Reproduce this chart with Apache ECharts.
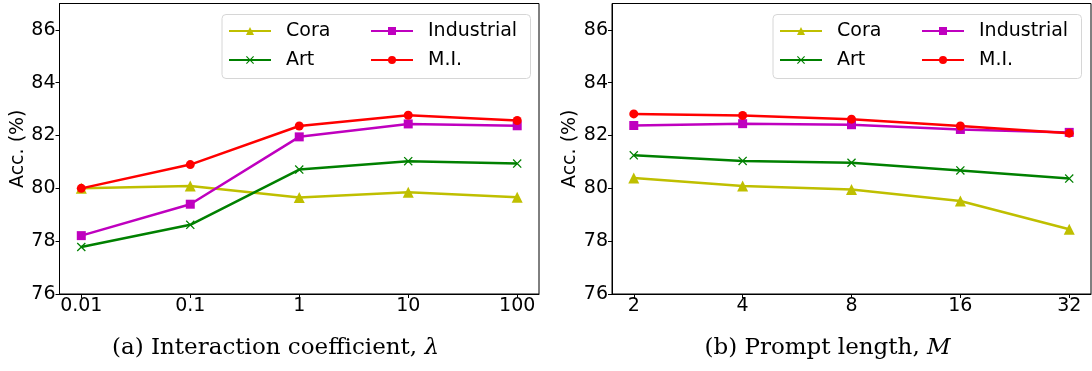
<!DOCTYPE html>
<html>
<head>
<meta charset="utf-8">
<script src="https://cdn.jsdelivr.net/npm/echarts@6/dist/echarts.min.js"></script>
<style>
  html, body { margin: 0; padding: 0; background: #fff; }
  #chart { width: 1092px; height: 371px; }
</style>
</head>
<body>
<div id="chart"></div>
<script>
(function () {
  // ── Data ──────────────────────────────────────────────
  const lambdaLabels = ["0.01", "0.1", "1", "10", "100"];
  const lengthLabels = ["2", "4", "8", "16", "32"];
  const seriesNames = ["Cora", "Art", "Industrial", "M.I."];

  // (a) interaction coefficient
  const lambdaCora = [80.0, 80.09, 79.65, 79.85, 79.66];
  const lambdaArt = [77.78, 78.62, 80.71, 81.03, 80.94];
  const lambdaIndustrial = [78.21, 79.4, 81.95, 82.44, 82.37];
  const lambdaMI = [80.0, 80.9, 82.36, 82.77, 82.57];

  // (b) prompt length
  const lengthCora = [80.39, 80.09, 79.96, 79.52, 78.45];
  const lengthArt = [81.25, 81.04, 80.97, 80.68, 80.37];
  const lengthIndustrial = [82.38, 82.45, 82.41, 82.23, 82.12];
  const lengthMI = [82.82, 82.76, 82.62, 82.36, 82.09];

  const yTicks = [76, 78, 80, 82, 84, 86];
  const xTicks = [0, 1, 2, 3, 4];

  // ── Styles ────────────────────────────────────────────
  const colors = { Cora: "#bfbf00", Art: "#008000", Industrial: "#bf00bf", "M.I.": "#ff0000" };
  const crossPath = "path://M1,0 L5,4 L9,0 L10,1 L6,5 L10,9 L9,10 L5,6 L1,10 L0,9 L4,5 L0,1 Z";
  const symbols = {
    Cora: { symbol: "triangle", size: 11 },
    Art: { symbol: crossPath, size: 9 },
    Industrial: { symbol: "rect", size: 9 },
    "M.I.": { symbol: "circle", size: 9 },
  };
  const font = "DejaVu Sans";
  const fontSize = 19;

  const chart = echarts.init(document.getElementById("chart"), null, { renderer: "canvas" });

  const grids = [
    { left: 59.5, top: 3.5, width: 479.5, height: 290.5 },
    { left: 612, top: 3.5, width: 479, height: 290.5 },
  ];

  function xAxis(gridIndex, labels) {
    return {
      type: "value",
      gridIndex,
      min: -0.2,
      max: 4.2,
      axisLine: { show: true, onZero: false, lineStyle: { color: "#000", width: 1 } },
      axisTick: { show: true, length: 4, customValues: xTicks, lineStyle: { color: "#000" } },
      axisLabel: {
        customValues: xTicks,
        formatter: (v) => labels[Math.round(v)],
        color: "#000",
        fontFamily: font,
        fontSize,
        margin: 3,
      },
      splitLine: { show: false },
    };
  }

  function yAxis(gridIndex) {
    return {
      type: "value",
      gridIndex,
      min: 76,
      max: 87,
      name: "Acc. (%)",
      nameLocation: "middle",
      nameGap: 31,
      nameTextStyle: { color: "#000", fontFamily: font, fontSize },
      axisLine: { show: true, onZero: false, lineStyle: { color: "#000", width: 1 } },
      axisTick: { show: true, length: 4, customValues: yTicks, lineStyle: { color: "#000" } },
      axisLabel: { customValues: yTicks, color: "#000", fontFamily: font, fontSize, margin: 4 },
      splitLine: { show: false },
    };
  }

  function makeSeries(name, values, gridIndex) {
    return {
      name,
      type: "line",
      xAxisIndex: gridIndex,
      yAxisIndex: gridIndex,
      data: values.map((v, i) => [i, v]),
      symbol: symbols[name].symbol,
      symbolSize: symbols[name].size,
      showAllSymbol: true,
      color: colors[name],
      lineStyle: { color: colors[name], width: 2.5 },
      itemStyle: { color: colors[name] },
      emphasis: { disabled: true },
      animation: false,
    };
  }

  function legend(left, names) {
    return {
      orient: "vertical",
      left,
      top: 21,
      padding: 0,
      data: names,
      itemWidth: 42,
      itemHeight: 10,
      itemGap: 9,
      textStyle: { color: "#000", fontFamily: font, fontSize, lineHeight: 20, padding: [0, 0, 0, 10] },
      selectedMode: false,
    };
  }

  const leftSeries = [
    makeSeries("Cora", lambdaCora, 0),
    makeSeries("Art", lambdaArt, 0),
    makeSeries("Industrial", lambdaIndustrial, 0),
    makeSeries("M.I.", lambdaMI, 0),
  ];
  const rightSeries = [
    makeSeries("Cora", lengthCora, 1),
    makeSeries("Art", lengthArt, 1),
    makeSeries("Industrial", lengthIndustrial, 1),
    makeSeries("M.I.", lengthMI, 1),
  ];

  // legend frames + subfigure captions
  const frame = (x) => ({
    type: "rect",
    left: x,
    top: 14,
    z: 1,
    shape: { width: 308.5, height: 64, r: 4 },
    style: { fill: "rgba(255,255,255,0.8)", stroke: "#d6d6d6", lineWidth: 1 },
  });
  const caption = (x, text) => ({
    type: "text",
    x,
    y: 348,
    style: {
      text,
      align: "center",
      verticalAlign: "middle",
      font: '23px "DejaVu Serif"',
      fill: "#000",
      rich: { i: { fontStyle: "italic", fontFamily: "DejaVu Serif", fontSize: 23 } },
    },
  });

  chart.setOption({
    animation: false,
    grid: grids.map((g) => ({ ...g, show: true, borderColor: "#000", borderWidth: 1, backgroundColor: "transparent" })),
    xAxis: [xAxis(0, lambdaLabels), xAxis(1, lengthLabels)],
    yAxis: [yAxis(0), yAxis(1)],
    legend: [
      legend(228, seriesNames.slice(0, 2)),
      legend(370, seriesNames.slice(2)),
      legend(779, seriesNames.slice(0, 2)),
      legend(921, seriesNames.slice(2)),
    ],
    graphic: [
      frame(221.5),
      frame(772.5),
      caption(275.5, "(a) Interaction coefficient, {i|λ}"),
      caption(827.5, "(b) Prompt length, {i|M}"),
    ],
    series: [...leftSeries, ...rightSeries],
  });

  window.addEventListener("resize", () => chart.resize());
})();
</script>
</body>
</html>
